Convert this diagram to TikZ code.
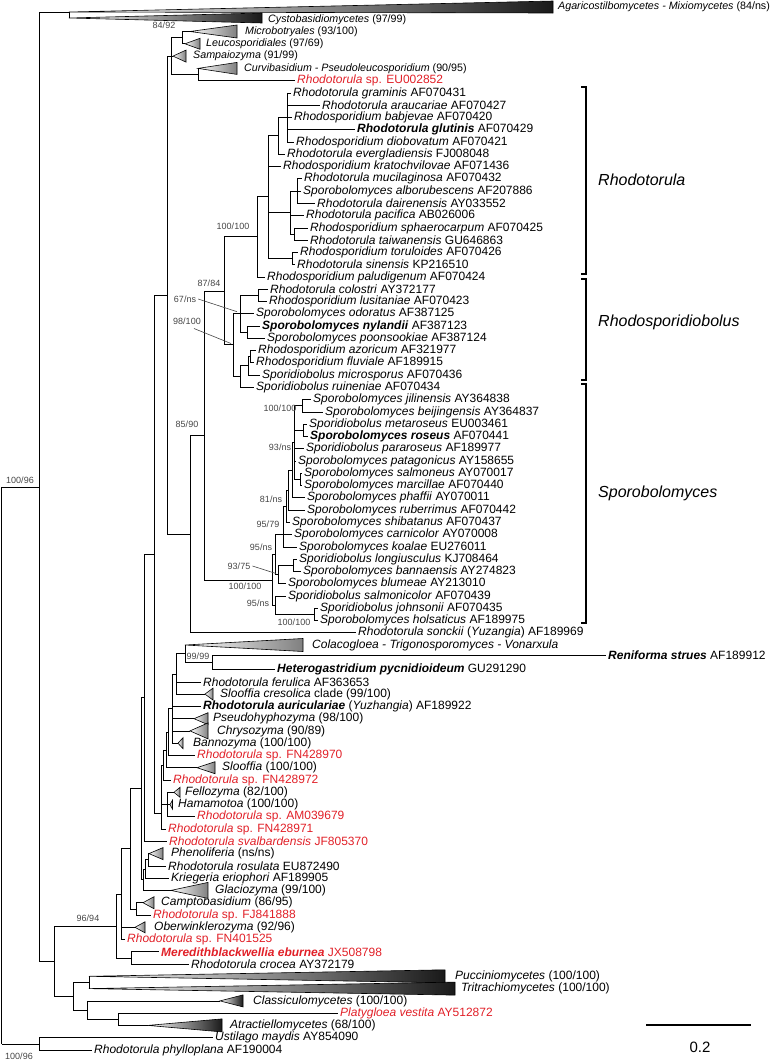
\documentclass[tikz,border=0pt]{standalone}
\usepackage{fontspec}
\setmainfont{Liberation Sans}
\usepackage{tikz}
\usetikzlibrary{calc}

\definecolor{seqred}{RGB}{225,32,40}
\definecolor{bsgray}{RGB}{70,70,70}

\tikzset{
  br/.style={line width=0.8pt},
  taxon/.style={anchor=west, inner xsep=2.5pt, inner ysep=0pt, font=\fontsize{12}{12}\selectfont},
  smalltaxon/.style={taxon, font=\fontsize{10.7}{11}\selectfont},
  redtaxon/.style={taxon, text=seqred},
  supp/.style={inner sep=0pt, text=bsgray, font=\fontsize{9}{9}\selectfont},
  pointer/.style={line width=0.6pt, draw=bsgray},
  lightclade/.style={draw, line width=0.6pt, left color=white, right color=gray},
  darkclade/.style={draw, line width=0.6pt, left color=white, right color=black!90},
  bracket/.style={line width=1.2pt},
  groupname/.style={anchor=west, inner sep=0pt, font=\fontsize{16}{16}\selectfont\itshape}
}

% taxon label: \taxleaf[style]{name}{x of text}{y}{text}
\newcommand\taxleaf[5][taxon]{\node[#1] (#2) at ({#3-2.5},#4) {#5};}
% collapsed clade: \cladewedge[style]{name}{apex x}{right x}{y}{half height}
\newcommand\cladewedge[6][lightclade]{%
  \coordinate (#2) at (#3,#5);
  \path[#1] (#2) -- (#4,{#5-#6}) -- (#4,{#5+#6}) -- cycle;}

\begin{document}
\begin{tikzpicture}[x=1pt,y=-1pt]
  \useasboundingbox (0,0) rectangle (774,1063);

  % taxa
  \taxleaf[smalltaxon]{agaL}{558}{7.0}{\textit{Agaricostilbomycetes - Mixiomycetes} (84/ns)}
  \taxleaf[smalltaxon]{cysL}{268}{19.3}{\textit{Cystobasidiomycetes} (97/99)}
  \taxleaf[smalltaxon]{micL}{245}{31.5}{\textit{Microbotryales} (93/100)}
  \taxleaf[smalltaxon]{leuL}{206}{43.8}{\textit{Leucosporidiales} (97/69)}
  \taxleaf[smalltaxon]{samL}{193}{56.1}{\textit{Sampaiozyma} (91/99)}
  \taxleaf[smalltaxon]{curL}{244}{68.4}{\textit{Curvibasidium - Pseudoleucosporidium} (90/95)}
  \taxleaf[redtaxon]{eu}{297}{80.6}{\textit{Rhodotorula} sp. EU002852}
  \taxleaf{gram}{293}{92.9}{\textit{Rhodotorula graminis} AF070431}
  \taxleaf{arau}{322}{105.2}{\textit{Rhodotorula araucariae} AF070427}
  \taxleaf{babj}{294}{117.4}{\textit{Rhodosporidium babjevae} AF070420}
  \taxleaf{glut}{357}{129.7}{\textbf{\textit{Rhodotorula glutinis}} AF070429}
  \taxleaf{diob}{296}{142.0}{\textit{Rhodosporidium diobovatum} AF070421}
  \taxleaf{everg}{287}{154.2}{\textit{Rhodotorula evergladiensis} FJ008048}
  \taxleaf{krat}{283}{166.5}{\textit{Rhodosporidium kratochvilovae} AF071436}
  \taxleaf{muci}{304}{178.8}{\textit{Rhodotorula mucilaginosa} AF070432}
  \taxleaf{albo}{303}{191.1}{\textit{Sporobolomyces alborubescens} AF207886}
  \taxleaf{dair}{317}{203.3}{\textit{Rhodotorula dairenensis} AY033552}
  \taxleaf{paci}{306}{215.6}{\textit{Rhodotorula pacifica} AB026006}
  \taxleaf{spha}{310}{227.9}{\textit{Rhodosporidium sphaerocarpum} AF070425}
  \taxleaf{taiw}{310}{240.1}{\textit{Rhodotorula taiwanensis} GU646863}
  \taxleaf{toru}{300}{252.4}{\textit{Rhodosporidium toruloides} AF070426}
  \taxleaf{sine}{297}{264.7}{\textit{Rhodotorula sinensis} KP216510}
  \taxleaf{palu}{267}{276.9}{\textit{Rhodosporidium paludigenum} AF070424}
  \taxleaf{colo}{270}{289.2}{\textit{Rhodotorula colostri} AY372177}
  \taxleaf{lusi}{269}{301.5}{\textit{Rhodosporidium lusitaniae} AF070423}
  \taxleaf{odor}{256}{313.8}{\textit{Sporobolomyces odoratus} AF387125}
  \taxleaf{nyla}{262}{326.0}{\textbf{\textit{Sporobolomyces nylandii}} AF387123}
  \taxleaf{poon}{267}{338.3}{\textit{Sporobolomyces poonsookiae} AF387124}
  \taxleaf{azor}{258}{350.6}{\textit{Rhodosporidium azoricum} AF321977}
  \taxleaf{fluv}{256}{362.8}{\textit{Rhodosporidium fluviale} AF189915}
  \taxleaf{micr}{262}{375.1}{\textit{Sporidiobolus microsporus} AF070436}
  \taxleaf{ruin}{256}{387.4}{\textit{Sporidiobolus ruineniae} AF070434}
  \taxleaf{jili}{313}{399.6}{\textit{Sporobolomyces jilinensis} AY364838}
  \taxleaf{beij}{325}{411.9}{\textit{Sporobolomyces beijingensis} AY364837}
  \taxleaf{meta}{309}{424.2}{\textit{Sporidiobolus metaroseus} EU003461}
  \taxleaf{rose}{310}{436.5}{\textbf{\textit{Sporobolomyces roseus}} AF070441}
  \taxleaf{parar}{306}{448.7}{\textit{Sporidiobolus pararoseus} AF189977}
  \taxleaf{pata}{298}{461.0}{\textit{Sporobolomyces patagonicus} AY158655}
  \taxleaf{salmo}{304}{473.3}{\textit{Sporobolomyces salmoneus} AY070017}
  \taxleaf{marc}{304}{485.5}{\textit{Sporobolomyces marcillae} AF070440}
  \taxleaf{phaf}{307}{497.8}{\textit{Sporobolomyces phaffii} AY070011}
  \taxleaf{rube}{307}{510.1}{\textit{Sporobolomyces ruberrimus} AF070442}
  \taxleaf{shib}{292}{522.3}{\textit{Sporobolomyces shibatanus} AF070437}
  \taxleaf{carn}{294}{534.6}{\textit{Sporobolomyces carnicolor} AY070008}
  \taxleaf{koal}{299}{546.9}{\textit{Sporobolomyces koalae} EU276011}
  \taxleaf{long}{299}{559.2}{\textit{Sporidiobolus longiusculus} KJ708464}
  \taxleaf{bann}{303}{571.4}{\textit{Sporobolomyces bannaensis} AY274823}
  \taxleaf{blum}{288}{583.7}{\textit{Sporobolomyces blumeae} AY213010}
  \taxleaf{salmc}{288}{596.0}{\textit{Sporidiobolus salmonicolor} AF070439}
  \taxleaf{john}{320}{608.2}{\textit{Sporidiobolus johnsonii} AF070435}
  \taxleaf{hols}{320}{620.5}{\textit{Sporobolomyces holsaticus} AF189975}
  \taxleaf{sonc}{358}{632.8}{\textit{Rhodotorula sonckii} (\textit{Yuzangia}) AF189969}
  \taxleaf{colaL}{312}{645.0}{\textit{Colacogloea - Trigonosporomyces - Vonarxula}}
  \taxleaf{reni}{608}{655.0}{\textbf{\textit{Reniforma strues}} AF189912}
  \taxleaf{hete}{277}{669.6}{\textbf{\textit{Heterogastridium pycnidioideum}} GU291290}
  \taxleaf{feru}{203}{681.9}{\textit{Rhodotorula ferulica} AF363653}
  \taxleaf{slcrL}{220}{694.1}{\textit{Slooffia cresolica} clade (99/100)}
  \taxleaf{auri}{203}{706.4}{\textbf{\textit{Rhodotorula auriculariae}} (\textit{Yuzhangia}) AF189922}
  \taxleaf{pseuL}{213}{718.7}{\textit{Pseudohyphozyma} (98/100)}
  \taxleaf{chryL}{217}{730.9}{\textit{Chrysozyma} (90/89)}
  \taxleaf{bannL}{193}{743.2}{\textit{Bannozyma} (100/100)}
  \taxleaf[redtaxon]{fn70}{197}{755.5}{\textit{Rhodotorula} sp. FN428970}
  \taxleaf{sloL}{222}{767.7}{\textit{Slooffia} (100/100)}
  \taxleaf[redtaxon]{fn72}{173}{780.0}{\textit{Rhodotorula} sp. FN428972}
  \taxleaf{felL}{185}{792.3}{\textit{Fellozyma} (82/100)}
  \taxleaf{hamL}{178}{804.6}{\textit{Hamamotoa} (100/100)}
  \taxleaf[redtaxon]{am}{197}{816.8}{\textit{Rhodotorula} sp. AM039679}
  \taxleaf[redtaxon]{fn71}{168}{829.1}{\textit{Rhodotorula} sp. FN428971}
  \taxleaf[redtaxon]{sval}{169}{841.4}{\textit{Rhodotorula svalbardensis} JF805370}
  \taxleaf{pheL}{171}{853.6}{\textit{Phenoliferia} (ns/ns)}
  \taxleaf{rosu}{168}{865.9}{\textit{Rhodotorula rosulata} EU872490}
  \taxleaf{krie}{171}{878.2}{\textit{Kriegeria eriophori} AF189905}
  \taxleaf{glaL}{215}{890.4}{\textit{Glaciozyma} (99/100)}
  \taxleaf{camL}{161}{902.7}{\textit{Camptobasidium} (86/95)}
  \taxleaf[redtaxon]{fj}{153}{915.0}{\textit{Rhodotorula} sp. FJ841888}
  \taxleaf{oberL}{154}{927.3}{\textit{Oberwinklerozyma} (92/96)}
  \taxleaf[redtaxon]{fn01}{127}{939.5}{\textit{Rhodotorula} sp. FN401525}
  \taxleaf[redtaxon]{mere}{161}{951.8}{\textbf{\textit{Meredithblackwellia eburnea}} JX508798}
  \taxleaf{croc}{191}{964.1}{\textit{Rhodotorula crocea} AY372179}
  \taxleaf{pucL}{455}{976.3}{\textit{Pucciniomycetes} (100/100)}
  \taxleaf{triL}{461}{988.6}{\textit{Tritrachiomycetes} (100/100)}
  \taxleaf{claL}{253}{1000.9}{\textit{Classiculomycetes} (100/100)}
  \taxleaf[redtaxon]{plat}{340}{1013.1}{\textit{Platygloea vestita} AY512872}
  \taxleaf{atrL}{230}{1025.4}{\textit{Atractiellomycetes} (68/100)}
  \taxleaf{usti}{215}{1037.7}{\textit{Ustilago maydis} AY854090}
  \taxleaf{phyl}{94}{1050.0}{\textit{Rhodotorula phylloplana} AF190004}

  % collapsed clades
  \coordinate (agaA) at (69,12);
  \coordinate (cysA) at (69,18);
  \path[darkclade] (agaA) -- (553,1) -- (553,13) -- cycle;
  \path[darkclade] (cysA) -- (262,13) -- (262,23) -- cycle;
  \cladewedge{micA}{190}{237}{31.5}{6.5}
  \cladewedge{leuA}{185}{200}{43.8}{5.5}
  \cladewedge{samA}{173}{186}{56.1}{6}
  \cladewedge{curA}{198}{237}{68.4}{6}
  \cladewedge{colaA}{185}{303}{645.0}{6.5}
  \cladewedge{slcrA}{205}{213}{694.1}{6}
  \cladewedge{pseuA}{194}{208}{718.7}{6}
  \cladewedge{chryA}{190}{208}{730.9}{8}
  \cladewedge{bannA}{178}{183}{743.2}{5.5}
  \cladewedge{sloA}{197}{215}{767.7}{6}
  \cladewedge{felA}{174}{180}{792.3}{5}
  \cladewedge{hamA}{170}{172.5}{804.6}{4.5}
  \cladewedge{pheA}{149}{163}{853.6}{6}
  \cladewedge{glaA}{171}{208}{890.4}{8}
  \cladewedge{camA}{143}{154}{902.7}{6}
  \cladewedge{oberA}{135}{145}{927.3}{5.5}
  \cladewedge[darkclade]{pucA}{89}{445}{976.3}{6.5}
  \cladewedge[darkclade]{triA}{89}{455}{988.6}{6.5}
  \cladewedge[darkclade]{claA}{220}{243}{1000.9}{6}
  \cladewedge[darkclade]{atrA}{148}{222}{1025.4}{6.5}

  % internal nodes
  \coordinate (root) at (1.5,766);
  \coordinate (n39) at (39,487);
  \coordinate (nA) at (69,12);
  \coordinate (nQ) at (171,56.1);
  \coordinate (nMbL) at (182,37.7);
  \coordinate (nB) at (198,74.5);
  \coordinate (n167) at (167,295.5);
  \coordinate (n154) at (154,554);
  \coordinate (n190) at (190,534.6);
  \coordinate (n204) at (204,435.5);
  \coordinate (n224) at (224,291);
  \coordinate (nP) at (257,236.5);
  \coordinate (nK) at (268,196);
  \coordinate (nE) at (278,135.8);
  \coordinate (nG) at (287,117.4);
  \coordinate (nM2) at (290,212.5);
  \coordinate (nM1) at (297,191.1);
  \coordinate (nSpT) at (294,234);
  \coordinate (nT) at (292,258.5);
  \coordinate (nX2) at (233,344.5);
  \coordinate (nX1) at (240,313.7);
  \coordinate (nC) at (258,295.3);
  \coordinate (nN) at (247,332.2);
  \coordinate (nX3) at (240,376.3);
  \coordinate (nX4) at (248,365.2);
  \coordinate (nAF) at (250,356.7);
  \coordinate (nSP) at (272,580);
  \coordinate (nNA) at (275,554.5);
  \coordinate (nL5) at (283,534.6);
  \coordinate (nL4) at (286,506.2);
  \coordinate (nL3) at (288,490.1);
  \coordinate (nL2) at (292,470.2);
  \coordinate (nL1) at (294,442.6);
  \coordinate (nJ) at (302,405.8);
  \coordinate (nMR) at (303,430.3);
  \coordinate (nSM) at (300,479.4);
  \coordinate (nB93) at (278,574.5);
  \coordinate (nLB) at (293,565.3);
  \coordinate (nNB) at (275,605.2);
  \coordinate (nJH) at (314,614.4);
  \coordinate (nR) at (212,662.3);
  \coordinate (nC99) at (185,653.6);
  \coordinate (nF1) at (176,673.9);
  \coordinate (nF2) at (172,708.6);
  \coordinate (nF3) at (168,732);
  \coordinate (nF4) at (166,749.9);
  \coordinate (nF5) at (163,765);
  \coordinate (nH1) at (167,804.6);
  \coordinate (nH2) at (161,813);
  \coordinate (nA1) at (144,697.7);
  \coordinate (nPR) at (148,859.8);
  \coordinate (nPRK) at (145,869);
  \coordinate (nA3) at (143,879.7);
  \coordinate (nX) at (141,788.7);
  \coordinate (nCF) at (136,908.9);
  \coordinate (nY) at (130,848.8);
  \coordinate (nZ) at (121,894.2);
  \coordinate (nMC) at (131,958);
  \coordinate (n9694) at (116,926.1);
  \coordinate (n54) at (54,961.6);
  \coordinate (nPuTr) at (89,982.5);
  \coordinate (nPA) at (118,1019.3);
  \coordinate (nCA) at (87,1010.1);
  \coordinate (nPT) at (73,996.3);
  \coordinate (nUP) at (39,1043.9);

  % root and outgroup
  \draw[br] (root |- n39) -- (root |- nUP);
  \draw[br] (root |- n39) -- (n39);
  \draw[br] (root |- nUP) -- (nUP);
  \draw[br] (nUP |- usti) -- (nUP |- phyl);
  \foreach \c in {usti,phyl} \draw[br] (nUP |- \c) -- (\c.west);

  % ingroup backbone
  \draw[br] (n39 |- nA) -- (n39 |- n54);
  \draw[br] (n39 |- nA) -- (nA);
  \draw[br] (n39 |- n54) -- (n54);
  \draw[br] (nA |- agaA) -- (nA |- cysA);

  % Microbotryales etc.
  \draw[br] (n167 |- nQ) -- (n167 |- n190);
  \draw[br] (n167 |- nQ) -- (nQ);
  \draw[br] (n167 |- n190) -- (n190);
  \draw[br] (nQ |- nMbL) -- (nQ |- nB);
  \foreach \c in {nMbL,samA,nB} \draw[br] (nQ |- \c) -- (\c);
  \draw[br] (nMbL |- micA) -- (nMbL |- leuA);
  \foreach \c in {micA,leuA} \draw[br] (nMbL |- \c) -- (\c);
  \draw[br] (nB |- curA) -- (nB |- eu);
  \draw[br] (nB |- eu) -- (eu.west);

  % Sporidiobolales
  \draw[br] (n154 |- n167) -- (n154 |- nH2);
  \foreach \c in {n167,nH2} \draw[br] (n154 |- \c) -- (\c);
  \draw[br] (n190 |- n204) -- (n190 |- sonc);
  \draw[br] (n190 |- n204) -- (n204);
  \draw[br] (n190 |- sonc) -- (sonc.west);
  \draw[br] (n204 |- n224) -- (n204 |- nSP);
  \foreach \c in {n224,nSP} \draw[br] (n204 |- \c) -- (\c);
  \draw[br] (n224 |- nP) -- (n224 |- nX2);
  \foreach \c in {nP,nX2} \draw[br] (n224 |- \c) -- (\c);

  % Rhodotorula
  \draw[br] (nP |- nK) -- (nP |- palu);
  \draw[br] (nP |- nK) -- (nK);
  \draw[br] (nP |- palu) -- (palu.west);
  \draw[br] (nK |- nE) -- (nK |- nT);
  \foreach \c in {nE,nM2,nT} \draw[br] (nK |- \c) -- (\c);
  \draw[br] (nK |- krat) -- (krat.west);
  \draw[br] (nE |- nG) -- (nE |- everg);
  \draw[br] (nE |- nG) -- (nG);
  \draw[br] (nE |- everg) -- (everg.west);
  \draw[br] (nG |- gram) -- (nG |- diob);
  \foreach \c in {gram,arau,babj,glut,diob} \draw[br] (nG |- \c) -- (\c.west);
  \draw[br] (nM2 |- nM1) -- (nM2 |- nSpT);
  \foreach \c in {nM1,nSpT} \draw[br] (nM2 |- \c) -- (\c);
  \draw[br] (nM2 |- paci) -- (paci.west);
  \draw[br] (nM1 |- muci) -- (nM1 |- dair);
  \foreach \c in {muci,albo,dair} \draw[br] (nM1 |- \c) -- (\c.west);
  \draw[br] (nSpT |- spha) -- (nSpT |- taiw);
  \foreach \c in {spha,taiw} \draw[br] (nSpT |- \c) -- (\c.west);
  \draw[br] (nT |- toru) -- (nT |- sine);
  \foreach \c in {toru,sine} \draw[br] (nT |- \c) -- (\c.west);

  % Rhodosporidiobolus
  \draw[br] (nX2 |- nX1) -- (nX2 |- nX3);
  \foreach \c in {nX1,nX3} \draw[br] (nX2 |- \c) -- (\c);
  \draw[br] (nX1 |- nC) -- (nX1 |- nN);
  \foreach \c in {nC,nN} \draw[br] (nX1 |- \c) -- (\c);
  \draw[br] (nX1 |- odor) -- (odor.west);
  \draw[br] (nC |- colo) -- (nC |- lusi);
  \foreach \c in {colo,lusi} \draw[br] (nC |- \c) -- (\c.west);
  \draw[br] (nN |- nyla) -- (nN |- poon);
  \foreach \c in {nyla,poon} \draw[br] (nN |- \c) -- (\c.west);
  \draw[br] (nX3 |- nX4) -- (nX3 |- ruin);
  \draw[br] (nX3 |- nX4) -- (nX4);
  \draw[br] (nX3 |- ruin) -- (ruin.west);
  \draw[br] (nX4 |- nAF) -- (nX4 |- micr);
  \draw[br] (nX4 |- nAF) -- (nAF);
  \draw[br] (nX4 |- micr) -- (micr.west);
  \draw[br] (nAF |- azor) -- (nAF |- fluv);
  \foreach \c in {azor,fluv} \draw[br] (nAF |- \c) -- (\c.west);

  % Sporobolomyces
  \draw[br] (nSP |- nNA) -- (nSP |- nNB);
  \foreach \c in {nNA,nNB} \draw[br] (nSP |- \c) -- (\c);
  \draw[br] (nNA |- nL5) -- (nNA |- nB93);
  \foreach \c in {nL5,nB93} \draw[br] (nNA |- \c) -- (\c);
  \draw[br] (nL5 |- nL4) -- (nL5 |- koal);
  \draw[br] (nL5 |- nL4) -- (nL4);
  \foreach \c in {carn,koal} \draw[br] (nL5 |- \c) -- (\c.west);
  \draw[br] (nL4 |- nL3) -- (nL4 |- shib);
  \draw[br] (nL4 |- nL3) -- (nL3);
  \draw[br] (nL4 |- shib) -- (shib.west);
  \draw[br] (nL3 |- nL2) -- (nL3 |- rube);
  \draw[br] (nL3 |- nL2) -- (nL2);
  \draw[br] (nL3 |- rube) -- (rube.west);
  \draw[br] (nL2 |- nL1) -- (nL2 |- phaf);
  \draw[br] (nL2 |- nL1) -- (nL1);
  \draw[br] (nL2 |- phaf) -- (phaf.west);
  \draw[br] (nL1 |- nJ) -- (nL1 |- nSM);
  \foreach \c in {nJ,nMR,nSM} \draw[br] (nL1 |- \c) -- (\c);
  \foreach \c in {parar,pata} \draw[br] (nL1 |- \c) -- (\c.west);
  \draw[br] (nJ |- jili) -- (nJ |- beij);
  \foreach \c in {jili,beij} \draw[br] (nJ |- \c) -- (\c.west);
  \draw[br] (nMR |- meta) -- (nMR |- rose);
  \foreach \c in {meta,rose} \draw[br] (nMR |- \c) -- (\c.west);
  \draw[br] (nSM |- salmo) -- (nSM |- marc);
  \foreach \c in {salmo,marc} \draw[br] (nSM |- \c) -- (\c.west);
  \draw[br] (nB93 |- nLB) -- (nB93 |- blum);
  \draw[br] (nB93 |- nLB) -- (nLB);
  \draw[br] (nB93 |- blum) -- (blum.west);
  \draw[br] (nLB |- long) -- (nLB |- bann);
  \foreach \c in {long,bann} \draw[br] (nLB |- \c) -- (\c.west);
  \draw[br] (nNB |- salmc) -- (nNB |- nJH);
  \draw[br] (nNB |- salmc) -- (salmc.west);
  \draw[br] (nNB |- nJH) -- (nJH);
  \draw[br] (nJH |- john) -- (nJH |- hols);
  \foreach \c in {john,hols} \draw[br] (nJH |- \c) -- (\c.west);

  % Kriegeriales and relatives
  \draw[br] (nH2 |- nF5) -- (nH2 |- fn71);
  \foreach \c in {nF5,nH1} \draw[br] (nH2 |- \c) -- (\c);
  \draw[br] (nH2 |- fn71) -- (fn71.west);
  \draw[br] (nF5 |- nF4) -- (nF5 |- fn72);
  \draw[br] (nF5 |- nF4) -- (nF4);
  \draw[br] (nF5 |- fn72) -- (fn72.west);
  \draw[br] (nF4 |- nF3) -- (nF4 |- sloA);
  \foreach \c in {nF3,sloA} \draw[br] (nF4 |- \c) -- (\c);
  \draw[br] (nF3 |- nF2) -- (nF3 |- fn70);
  \draw[br] (nF3 |- nF2) -- (nF2);
  \draw[br] (nF3 |- fn70) -- (fn70.west);
  \draw[br] (nF2 |- nF1) -- (nF2 |- bannA);
  \foreach \c in {nF1,pseuA,chryA,bannA} \draw[br] (nF2 |- \c) -- (\c);
  \draw[br] (nF2 |- auri) -- (auri.west);
  \draw[br] (nF1 |- nC99) -- (nF1 |- slcrA);
  \foreach \c in {nC99,slcrA} \draw[br] (nF1 |- \c) -- (\c);
  \draw[br] (nF1 |- feru) -- (feru.west);
  \draw[br] (nC99 |- colaA) -- (nC99 |- nR);
  \draw[br] (nC99 |- nR) -- (nR);
  \draw[br] (nR |- reni) -- (nR |- hete);
  \foreach \c in {reni,hete} \draw[br] (nR |- \c) -- (\c.west);
  \draw[br] (nH1 |- felA) -- (nH1 |- am);
  \foreach \c in {felA,hamA} \draw[br] (nH1 |- \c) -- (\c);
  \draw[br] (nH1 |- am) -- (am.west);

  \draw[br] (nA1 |- n154) -- (nA1 |- sval);
  \draw[br] (nA1 |- n154) -- (n154);
  \draw[br] (nA1 |- sval) -- (sval.west);
  \draw[br] (nX |- nA1) -- (nX |- nA3);
  \foreach \c in {nA1,nA3} \draw[br] (nX |- \c) -- (\c);
  \draw[br] (nA3 |- nPRK) -- (nA3 |- glaA);
  \foreach \c in {nPRK,glaA} \draw[br] (nA3 |- \c) -- (\c);
  \draw[br] (nPRK |- nPR) -- (nPRK |- krie);
  \draw[br] (nPRK |- nPR) -- (nPR);
  \draw[br] (nPRK |- krie) -- (krie.west);
  \draw[br] (nPR |- pheA) -- (nPR |- rosu);
  \draw[br] (nPR |- pheA) -- (pheA);
  \draw[br] (nPR |- rosu) -- (rosu.west);
  \draw[br] (nY |- nX) -- (nY |- nCF);
  \foreach \c in {nX,nCF} \draw[br] (nY |- \c) -- (\c);
  \draw[br] (nCF |- camA) -- (nCF |- fj);
  \draw[br] (nCF |- camA) -- (camA);
  \draw[br] (nCF |- fj) -- (fj.west);
  \draw[br] (nZ |- nY) -- (nZ |- fn01);
  \foreach \c in {nY,oberA} \draw[br] (nZ |- \c) -- (\c);
  \draw[br] (nZ |- fn01) -- (fn01.west);
  \draw[br] (n9694 |- nZ) -- (n9694 |- nMC);
  \foreach \c in {nZ,nMC} \draw[br] (n9694 |- \c) -- (\c);
  \draw[br] (nMC |- mere) -- (nMC |- croc);
  \foreach \c in {mere,croc} \draw[br] (nMC |- \c) -- (\c.west);

  % other classes
  \draw[br] (n54 |- n9694) -- (n54 |- nPT);
  \foreach \c in {n9694,nPT} \draw[br] (n54 |- \c) -- (\c);
  \draw[br] (nPT |- nPuTr) -- (nPT |- nCA);
  \foreach \c in {nPuTr,nCA} \draw[br] (nPT |- \c) -- (\c);
  \draw[br] (nPuTr |- pucA) -- (nPuTr |- triA);
  \draw[br] (nCA |- claA) -- (nCA |- nPA);
  \foreach \c in {claA,nPA} \draw[br] (nCA |- \c) -- (\c);
  \draw[br] (nPA |- plat) -- (nPA |- atrA);
  \draw[br] (nPA |- plat) -- (plat.west);
  \draw[br] (nPA |- atrA) -- (atrA);

  % support values
  \node[supp] (s8492) at (164,25) {84/92};
  \node[supp] (s100a) at (233,226) {100/100};
  \node[supp] (s8784) at (209,283) {87/84};
  \node[supp] (s67ns) at (185,299) {67/ns};
  \node[supp] (s98100) at (187,321) {98/100};
  \node[supp] (s8590) at (187,424) {85/90};
  \node[supp] (s100b) at (280,408) {100/100};
  \node[supp] (s93ns) at (280,447) {93/ns};
  \node[supp] (s81ns) at (271,499) {81/ns};
  \node[supp] (s9579) at (268,524) {95/79};
  \node[supp] (s95na) at (261,547) {95/ns};
  \node[supp] (s9375) at (239,566) {93/75};
  \node[supp] (s100c) at (245,586) {100/100};
  \node[supp] (s95nb) at (258,603) {95/ns};
  \node[supp] (s100d) at (294,622) {100/100};
  \node[supp] (s9999) at (198,656) {99/99};
  \node[supp] (s9694) at (88,918) {96/94};
  \node[supp] (s10096a) at (20,480) {100/96};
  \node[supp] (s10096b) at (19,1056) {100/96};
  \draw[pointer] ([xshift=2pt]s67ns.east) -- ($(nX1)+(-3,-2)$);
  \draw[pointer] ($(s98100.south)+(7,4)$) -- ($(nX2)+(-2,-1)$);
  \draw[pointer] ([xshift=2pt]s9375.east) -- ($(nB93)+(-2,-1)$);

  % genus brackets
  \draw[bracket] (581,87) -- (586,87) -- (586,274) -- (581,274);
  \draw[bracket] (581,279) -- (586,279) -- (586,380) -- (581,380);
  \draw[bracket] (581,384) -- (586,384) -- (586,623) -- (581,623);
  \node[groupname] (gRho) at (598,180) {Rhodotorula};
  \node[groupname] (gRsb) at (598,322) {Rhodosporidiobolus};
  \node[groupname] (gSpo) at (598,493) {Sporobolomyces};

  % scale
  \coordinate (sbA) at (646,1025);
  \coordinate (sbB) at (751,1025);
  \draw[line width=2.5pt] (sbA) -- (sbB);
  \node[inner sep=0pt, font=\fontsize{15}{15}\selectfont] (sbL) at (700,1047) {0.2};
\end{tikzpicture}
\end{document}
